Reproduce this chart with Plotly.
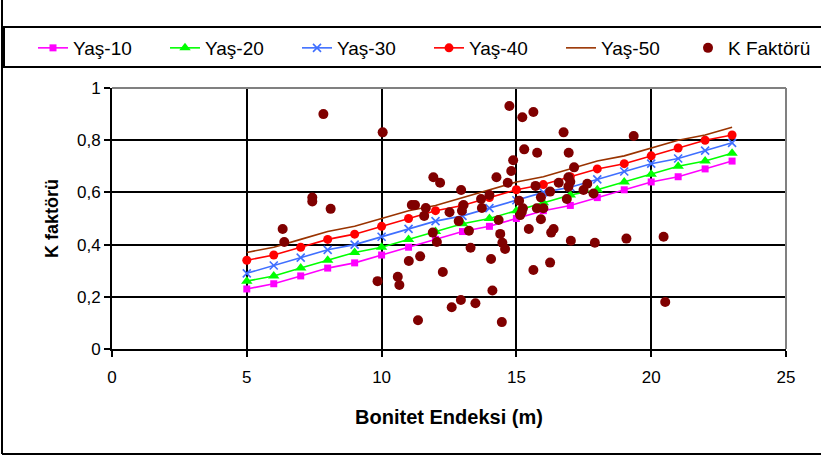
import plotly.graph_objects as go

# Site index values where the age curves are evaluated
bonitet = [5, 6, 7, 8, 9, 10, 11, 12, 13, 14, 15, 16, 17, 18, 19, 20, 21, 22, 23]

# K factor by age class
yas10 = [0.23, 0.25, 0.28, 0.31, 0.33, 0.36, 0.39, 0.42, 0.45, 0.47, 0.50, 0.53, 0.55, 0.58, 0.61, 0.64, 0.66, 0.69, 0.72]
yas20 = [0.26, 0.28, 0.31, 0.34, 0.37, 0.39, 0.42, 0.45, 0.48, 0.50, 0.53, 0.56, 0.59, 0.61, 0.64, 0.67, 0.70, 0.72, 0.75]
yas30 = [0.29, 0.32, 0.35, 0.38, 0.40, 0.43, 0.46, 0.49, 0.51, 0.54, 0.57, 0.60, 0.62, 0.65, 0.68, 0.71, 0.73, 0.76, 0.79]
yas40 = [0.34, 0.36, 0.39, 0.42, 0.44, 0.47, 0.50, 0.53, 0.55, 0.58, 0.61, 0.63, 0.66, 0.69, 0.71, 0.74, 0.77, 0.80, 0.82]
yas50 = [0.37, 0.39, 0.42, 0.45, 0.47, 0.50, 0.53, 0.55, 0.58, 0.61, 0.64, 0.66, 0.69, 0.72, 0.74, 0.77, 0.80, 0.82, 0.85]

# Measured K factors (site index, K)
olcum_x = [6.33, 6.39, 7.43, 7.43, 7.84, 8.11, 9.85, 10.04, 10.60, 10.66,
           11.01, 11.12, 11.24, 11.35, 11.43, 11.58, 11.64, 11.90, 11.92, 12.05,
           12.17, 12.27, 12.52, 12.60, 12.86, 12.94, 12.95, 12.98, 13.04, 13.24,
           13.30, 13.48, 13.69, 13.72, 14.00, 14.06, 14.11, 14.26, 14.34, 14.40,
           14.46, 14.48, 14.58, 14.68, 14.74, 14.81, 14.88, 15.10, 15.14, 15.22,
           15.24, 15.29, 15.20, 15.46, 15.63, 15.63, 15.71, 15.76, 15.77, 15.91,
           15.91, 16.00, 16.25, 16.25, 16.29, 16.38, 16.57, 16.75, 16.87, 16.93,
           16.94, 17.00, 16.93, 17.02, 17.14, 17.49, 17.63, 17.86, 17.91, 19.08,
           19.35, 20.46, 20.52]
olcum_k = [0.46, 0.41, 0.58, 0.565, 0.90, 0.537, 0.26, 0.83, 0.277, 0.245,
           0.337, 0.552, 0.552, 0.11, 0.355, 0.51, 0.54, 0.446, 0.658, 0.41,
           0.637, 0.295, 0.524, 0.16, 0.49, 0.188, 0.609, 0.53, 0.552, 0.453,
           0.388, 0.175, 0.575, 0.54, 0.59, 0.345, 0.224, 0.658, 0.494, 0.441,
           0.103, 0.407, 0.383, 0.637, 0.931, 0.682, 0.723, 0.568, 0.513, 0.888,
           0.539, 0.765, 0.525, 0.46, 0.908, 0.303, 0.625, 0.539, 0.752, 0.581,
           0.497, 0.539, 0.603, 0.331, 0.446, 0.46, 0.637, 0.83, 0.575, 0.658,
           0.752, 0.641, 0.622, 0.415, 0.696, 0.609, 0.633, 0.596, 0.407, 0.423,
           0.816, 0.43, 0.18]

FONT = "Liberation Sans, Arial, sans-serif"
W, H = 821, 457

fig = go.Figure()

fig.add_trace(go.Scatter(x=bonitet, y=yas10, name="Yaş-10", mode="lines+markers",
                         line=dict(color="#FF00FF", width=1.6),
                         marker=dict(symbol="square", size=7, color="#FF00FF")))
fig.add_trace(go.Scatter(x=bonitet, y=yas20, name="Yaş-20", mode="lines+markers",
                         line=dict(color="#00FF00", width=1.6),
                         marker=dict(symbol="triangle-up", size=10, color="#00FF00")))
fig.add_trace(go.Scatter(x=bonitet, y=yas30, name="Yaş-30", mode="lines+markers",
                         line=dict(color="#3F6FFF", width=1.6),
                         marker=dict(symbol="x-thin", size=8,
                                     line=dict(color="#3F6FFF", width=1.6))))
fig.add_trace(go.Scatter(x=bonitet, y=yas40, name="Yaş-40", mode="lines+markers",
                         line=dict(color="#FF0000", width=1.6),
                         marker=dict(symbol="circle", size=9, color="#FF0000")))
fig.add_trace(go.Scatter(x=bonitet, y=yas50, name="Yaş-50", mode="lines",
                         line=dict(color="#993300", width=1.6)))
fig.add_trace(go.Scatter(x=olcum_x, y=olcum_k, name="K Faktörü", mode="markers",
                         legend="legend2",
                         marker=dict(symbol="circle", size=10, color="#800000")))

L, R, T, B = 112, 35, 88, 108
PW, PH = W - L - R, H - T - B


def px(xp):
    return (xp - L) / PW


def py(yp):
    return (H - B - yp) / PH


shapes = [
    # plot area frame: grey top and right edges
    dict(type="line", xref="paper", yref="paper", x0=0, x1=1, y0=1, y1=1,
         line=dict(color="#808080", width=2), layer="above"),
    dict(type="line", xref="paper", yref="paper", x0=1, x1=1, y0=0, y1=1,
         line=dict(color="#808080", width=2), layer="above"),
    # legend box
    dict(type="rect", xref="paper", yref="paper", x0=px(4), x1=px(860),
         y0=py(67), y1=py(27), line=dict(color="black", width=2)),
    # outer chart frame: left and bottom edges
    dict(type="line", xref="paper", yref="paper", x0=px(2), x1=px(2),
         y0=py(454), y1=py(-20), line=dict(color="black", width=2)),
    dict(type="line", xref="paper", yref="paper", x0=px(2), x1=px(860),
         y0=py(454), y1=py(454), line=dict(color="black", width=2)),
]

legend_common = dict(orientation="h", xref="container", yref="container",
                     xanchor="left", yanchor="top",
                     font=dict(family=FONT, size=19, color="black"),
                     bgcolor="rgba(0,0,0,0)", borderwidth=0)

fig.update_layout(
    width=W, height=H,
    margin=dict(l=L, r=R, t=T, b=B, autoexpand=False),
    paper_bgcolor="white", plot_bgcolor="white",
    separators=",.",
    font=dict(family=FONT, size=17, color="black"),
    showlegend=True,
    legend=dict(legend_common, x=33 / W, y=1 - 29 / H,
                entrywidth=87, entrywidthmode="pixels"),
    legend2=dict(legend_common, x=688 / W, y=1 - 29 / H),
    shapes=shapes,
    xaxis=dict(range=[0, 25], dtick=5, tick0=0, automargin=False,
               showgrid=True, gridcolor="black", gridwidth=1.5,
               showline=True, linecolor="black", linewidth=2,
               ticks="outside", ticklen=6, tickcolor="black", tickwidth=1.5,
               ticklabelstandoff=6,
               zeroline=False,
               tickfont=dict(family=FONT, size=17),
               title=dict(text="<b>Bonitet Endeksi (m)</b>",
                         font=dict(family=FONT, size=20), standoff=24)),
    yaxis=dict(range=[0, 1], dtick=0.2, tick0=0, automargin=False,
               showgrid=True, gridcolor="black", gridwidth=1.5,
               showline=True, linecolor="black", linewidth=2,
               ticks="outside", ticklen=6, tickcolor="black", tickwidth=1.5,
               zeroline=False,
               tickfont=dict(family=FONT, size=17),
               title=dict(text="<b>K faktörü</b>",
                         font=dict(family=FONT, size=18), standoff=14)),
)

fig.write_html("out.html")
